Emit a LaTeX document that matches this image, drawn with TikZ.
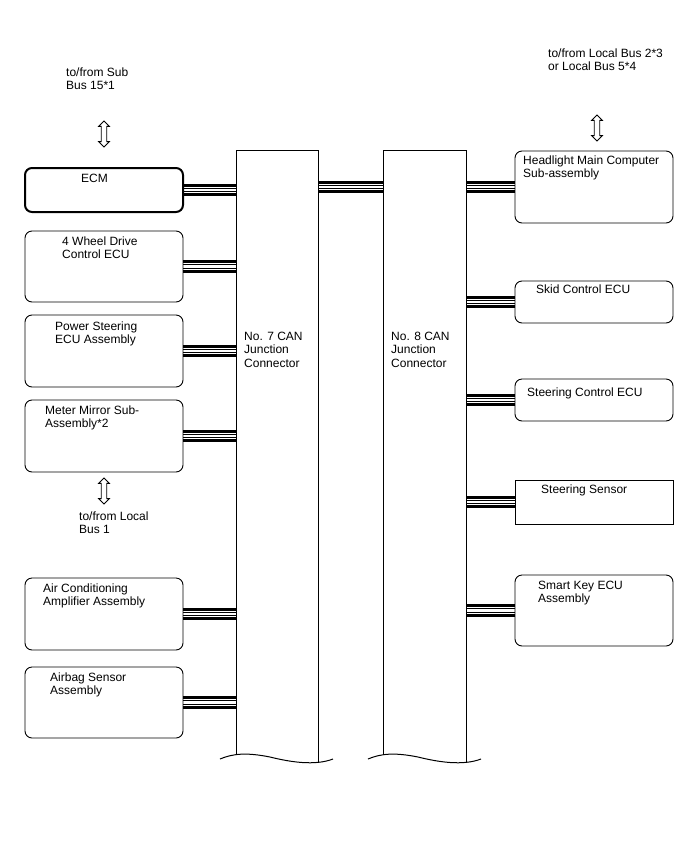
\documentclass[tikz,border=0pt]{standalone}
\usepackage{fontspec}
\setmainfont{Liberation Sans}
\usetikzlibrary{shapes.arrows,backgrounds}
\tikzset{
  box/.style={draw, rounded corners=7pt, line width=0.9pt, minimum width=158pt, anchor=north west, inner sep=0pt, outer sep=0pt},
  colbox/.style={draw=none, anchor=north west, inner sep=0pt, outer sep=0pt, minimum height=608pt},
  txt/.style={anchor=base west, align=left, inner sep=0pt, font=\fontsize{12}{13.5}\selectfont},
  bus/.style={line width=12.5pt, postaction={draw=white,line width=6.8pt}, postaction={draw=black,line width=4.8pt}, postaction={draw=white,line width=2.8pt}},
  dblarrow/.style={draw, line width=0.9pt, shape=double arrow, shape border rotate=90, minimum height=26pt, inner sep=2.3pt, double arrow head extend=2.6pt},
  colline/.style={line width=1pt},
}
\begin{document}
\begin{tikzpicture}[x=1pt,y=-1pt]
\useasboundingbox (0,0) rectangle (688,852);
% left boxes
\node[box, line width=2pt, minimum height=44pt] (ecm) at (25,168) {};
\node[box, minimum height=71pt] (fwd) at (25,231) {};
\node[box, minimum height=72pt] (ps) at (25,315) {};
\node[box, minimum height=72pt] (mm) at (25,400) {};
\node[box, minimum height=72pt] (ac) at (25,578) {};
\node[box, minimum height=71pt] (ab) at (25,667) {};
% right boxes
\node[box, minimum height=72pt] (hl) at (515,151) {};
\node[box, minimum height=42pt] (skid) at (515,281) {};
\node[box, minimum height=42pt] (sc) at (515,379) {};
\node[box, rounded corners=0pt, minimum height=44pt] (ss) at (515,480) {};
\node[box, minimum height=71pt] (sk) at (515,575) {};
% columns
\node[colbox, minimum width=82pt] (col7) at (236,150) {};
\node[colbox, minimum width=83pt] (col8) at (383,150) {};
\draw[colline] (236,754.5) -- (236,150) -- (318,150) -- (318,763);
\draw[colline] (220,759) .. controls (232,754) and (245,752) .. (270,757) .. controls (290,762) and (315,766) .. (333,759);
\draw[colline] (383,754.5) -- (383,150) -- (466,150) -- (466,763);
\draw[colline] (368,759) .. controls (380,754) and (393,752) .. (418,757) .. controls (438,762) and (463,766) .. (481,759);
% buses
\begin{scope}[on background layer]
\draw[bus] (ecm.east) -- (ecm.east -| col7.west);
\draw[bus] (fwd.east) -- (fwd.east -| col7.west);
\draw[bus] (ps.east) -- (ps.east -| col7.west);
\draw[bus] (mm.east) -- (mm.east -| col7.west);
\draw[bus] (ac.east) -- (ac.east -| col7.west);
\draw[bus] (ab.east) -- (ab.east -| col7.west);
\draw[bus] (col7.east |- hl.west) -- (col8.west |- hl.west);
\draw[bus] (hl.west) -- (hl.west -| col8.east);
\draw[bus] (skid.west) -- (skid.west -| col8.east);
\draw[bus] (sc.west) -- (sc.west -| col8.east);
\draw[bus] (ss.west) -- (ss.west -| col8.east);
\draw[bus] (sk.west) -- (sk.west -| col8.east);
\end{scope}
% arrows
\node[dblarrow] (a1) at (104,134) {};
\node[dblarrow] (a2) at (104,491) {};
\node[dblarrow] (a3) at (597,128) {};
% texts (anchor = baseline of last line)
\node[txt] (tsub) at (66,89.5) {to/from Sub\\Bus 15*1};
\node[txt] (tlb23) at (548,70.5) {to/from Local Bus 2*3\\or Local Bus 5*4};
\node[txt] (tecm) at (81,182) {ECM};
\node[txt] (tfwd) at (62,258.5) {4 Wheel Drive\\Control ECU};
\node[txt] (tps) at (55,343.5) {Power Steering\\ECU Assembly};
\node[txt] (tmm) at (45,427.5) {Meter Mirror Sub-\\Assembly*2};
\node[txt] (tlb1) at (79,533.5) {to/from Local\\Bus 1};
\node[txt] (tac) at (43,605.5) {Air Conditioning\\Amplifier Assembly};
\node[txt] (tab) at (50,694.5) {Airbag Sensor\\Assembly};
\node[txt] (tc7) at (244,367) {No. 7 CAN\\Junction\\Connector};
\node[txt] (tc8) at (391,367) {No. 8 CAN\\Junction\\Connector};
\node[txt] (thl) at (523,177.5) {Headlight Main Computer\\Sub-assembly};
\node[txt] (tskid) at (536,293) {Skid Control ECU};
\node[txt] (tsc) at (527,396) {Steering Control ECU};
\node[txt] (tss) at (541,493) {Steering Sensor};
\node[txt] (tsk) at (538,602.5) {Smart Key ECU\\Assembly};
\end{tikzpicture}
\end{document}
